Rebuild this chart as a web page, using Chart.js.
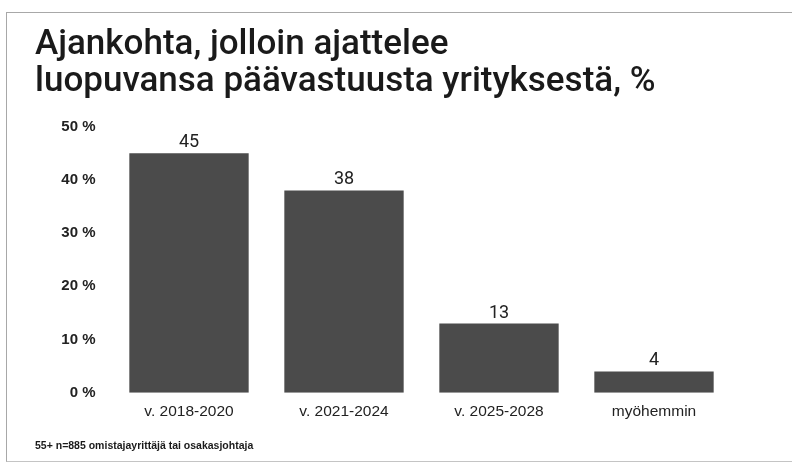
<!DOCTYPE html>
<html>
<head>
<meta charset="utf-8">
<script src="https://cdn.jsdelivr.net/npm/chart.js@4"></script>
<style>
  html, body { margin: 0; padding: 0; background: #fff; }
  #wrap { position: relative; width: 792px; height: 463px; overflow: hidden; }
  #frame {
    position: absolute; left: 6px; top: 12px; width: 800px; height: 448px;
    border-left: 1.5px solid #a8a8a8; border-top: 1.5px solid #a8a8a8; border-bottom: 1.5px solid #c4c4c4;
  }
  #chart { position: absolute; left: 0; top: 0; }
</style>
</head>
<body>
<div id="wrap">
  <div id="frame"></div>
  <canvas id="chart" width="792" height="463"></canvas>
</div>
<script>
// datos del gráfico
const categories = ['v. 2018-2020', 'v. 2021-2024', 'v. 2025-2028', 'myöhemmin'];
const values = [45, 38, 13, 4];
const yTicks = [0, 10, 20, 30, 40, 50];
const titleLines = ['Ajankohta, jolloin ajattelee', 'luopuvansa päävastuusta yrityksestä, %'];
const footnote = '55+ n=885 omistajayrittäjä tai osakasjohtaja';

const FONT = "'Liberation Sans', Arial, sans-serif";

// etiquetas de valor encima de cada barra
const valueLabels = {
  id: 'valueLabels',
  afterDatasetsDraw(chart) {
    const ctx = chart.ctx;
    const meta = chart.getDatasetMeta(0);
    ctx.save();
    ctx.font = '18px Roboto, ' + FONT;
    ctx.fillStyle = '#222';
    ctx.textAlign = 'center';
    ctx.textBaseline = 'alphabetic';
    meta.data.forEach((bar, i) => {
      ctx.fillText(String(values[i]), bar.x, bar.y - 6);
    });
    ctx.restore();
  }
};

const ctx = document.getElementById('chart');
new Chart(ctx, {
  type: 'bar',
  data: {
    labels: categories,
    datasets: [{
      data: values,
      backgroundColor: '#4b4b4b',
      borderWidth: 0,
      categoryPercentage: 1,
      barPercentage: 0.77
    }]
  },
  options: {
    responsive: false,
    animation: false,
    layout: { padding: { left: 35, right: 60.5, top: 0, bottom: 0 } },
    scales: {
      x: {
        grid: { display: false, drawTicks: false },
        border: { display: false },
        ticks: { color: '#222', font: { family: FONT, size: 15.5 }, padding: 10 }
      },
      y: {
        min: 0,
        max: 50,
        afterFit(scale) { scale.width = 76.5; },
        afterBuildTicks(scale) { scale.ticks = yTicks.map(v => ({ value: v })); },
        grid: { display: false, drawTicks: false },
        border: { display: false },
        ticks: {
          color: '#222',
          padding: 16,
          font: { family: FONT, size: 15, weight: 'bold' },
          callback: v => v + ' %'
        }
      }
    },
    plugins: {
      legend: { display: false },
      tooltip: { enabled: false },
      title: {
        display: true,
        text: titleLines,
        align: 'start',
        color: '#1a1a1a',
        font: { family: 'Roboto, ' + FONT, size: 35, weight: '500', lineHeight: '37px' },
        padding: { top: 27, bottom: 25.5 }
      },
      subtitle: {
        display: true,
        position: 'bottom',
        text: footnote,
        align: 'start',
        color: '#1a1a1a',
        font: { family: FONT, size: 10.5, weight: 'bold', lineHeight: 1.2 },
        padding: { top: 8.7, bottom: 10.3 }
      }
    }
  },
  plugins: [valueLabels]
});
</script>
</body>
</html>
